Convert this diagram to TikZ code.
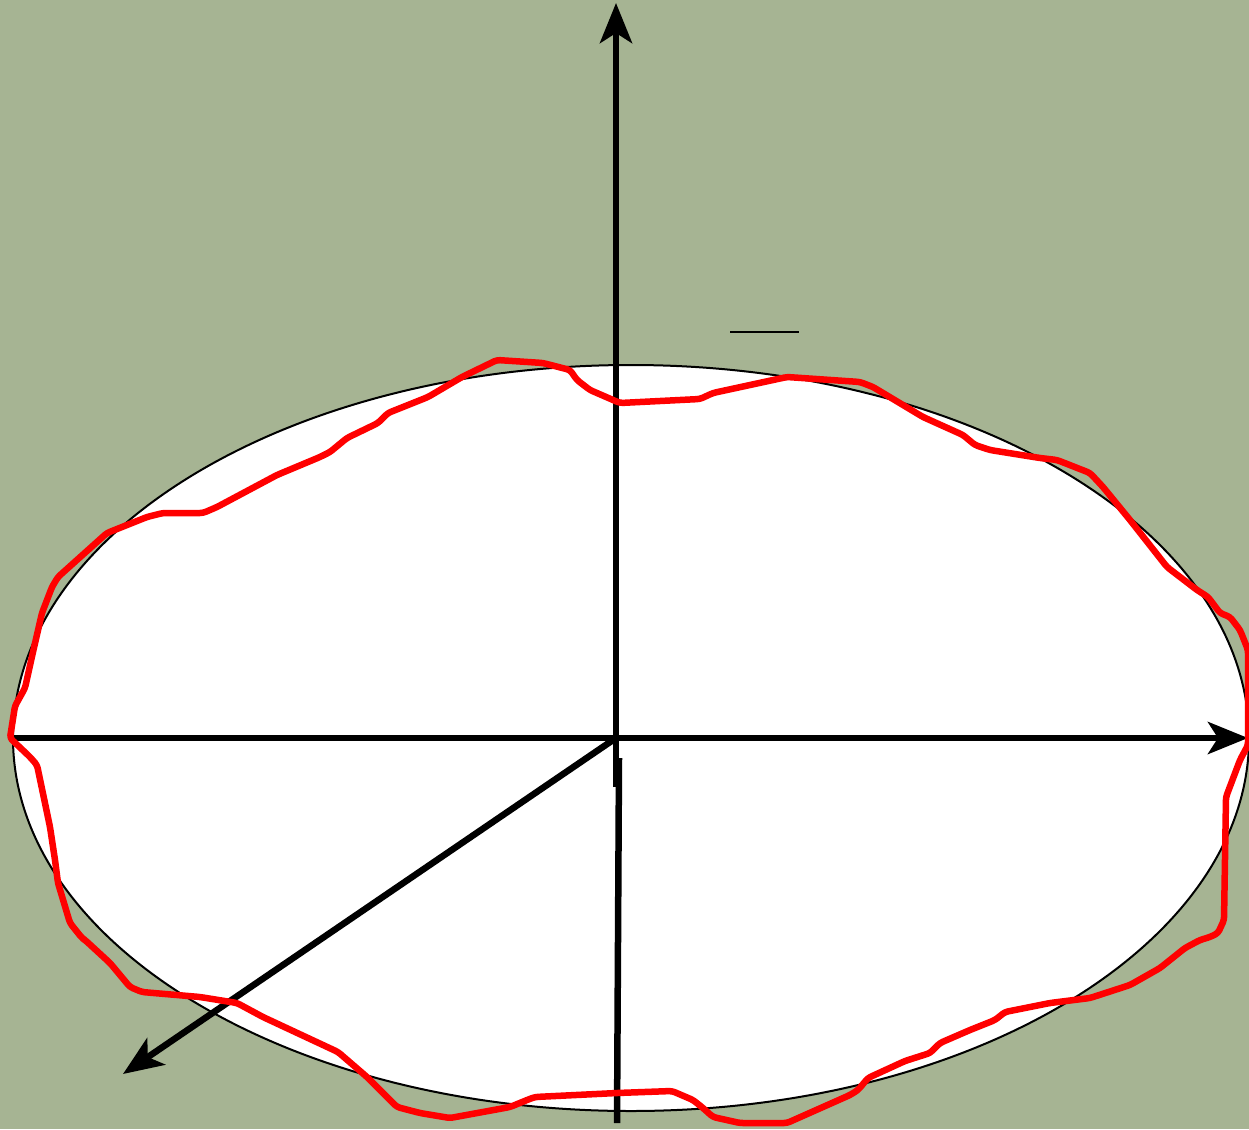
\documentclass[tikz,border=0pt]{standalone}
\usetikzlibrary{arrows.meta}
\definecolor{bg}{HTML}{A6B493}
\tikzset{
  axis/.style={line width=6.5pt, black},
  tipstyle/.style={-{Stealth[length=40pt,width=32pt,inset=10pt]}},
  wave/.style={line width=6.5pt, red, line join=round, line cap=round, rounded corners=3pt}
}
\begin{document}
\begin{tikzpicture}[x=1pt,y=-1pt]
\fill[bg] (0,0) rectangle (1249,1129);
\useasboundingbox (0,0) rectangle (1249,1129);
% ellipse
\coordinate (c) at (631,738);
\filldraw[fill=white, draw=black, line width=2pt] (c) ellipse [x radius=618, y radius=373];
% axes
\coordinate (o) at (616,738);
\coordinate (vtop) at (616,3);
\coordinate (vlow) at (616,787);
\coordinate (v2a) at (619,758);
\coordinate (v2b) at (617,1123);
\coordinate (hl) at (10,738);
\coordinate (hr) at (1248,738);
\coordinate (dtip) at (123,1074);
\draw[axis, tipstyle] (vlow) -- (vtop);
\draw[axis] (v2a) -- (v2b);
\draw[axis, tipstyle] (hl) -- (hr);
\draw[axis, tipstyle] (o) -- (dtip);
% small bar
\coordinate (b1) at (730,332);
\coordinate (b2) at (799,332);
\draw[line width=2.8pt] (b1) -- (b2);
% red wavy curve
\draw[wave] (10,738) -- (15,706) -- (25,688) -- (33,652) -- (42,613) -- (52,587) -- (58,577)
 -- (107,533) -- (147,517) -- (163,513) -- (203,513) -- (217,507) -- (277,475) -- (320,457)
 -- (330,452) -- (347,438) -- (378,423) -- (388,413) -- (428,397) -- (462,377) -- (497,360)
 -- (543,363) -- (570,370) -- (577,380) -- (590,390) -- (620,403) -- (700,399) -- (713,393)
 -- (787,377) -- (860,382) -- (873,387) -- (903,405) -- (923,417) -- (963,435) -- (975,445)
 -- (990,450) -- (1040,458) -- (1057,460) -- (1090,473) -- (1103,487) -- (1130,520)
 -- (1167,567) -- (1197,590) -- (1208,597) -- (1220,613) -- (1230,617) -- (1240,630)
 -- (1248,650) -- (1248,745) -- (1240,760) -- (1226,797) -- (1224,920) -- (1218,933)
 -- (1210,937) -- (1200,940) -- (1185,948) -- (1160,968) -- (1130,985) -- (1090,998)
 -- (1050,1003) -- (1005,1012) -- (995,1020) -- (970,1030) -- (940,1043) -- (930,1053)
 -- (905,1061) -- (868,1078) -- (858,1090) -- (850,1095) -- (787,1123) -- (740,1123)
 -- (713,1117) -- (703,1108) -- (693,1100) -- (672,1091) -- (617,1093) -- (535,1097)
 -- (527,1100) -- (510,1107) -- (450,1118) -- (420,1113) -- (397,1107) -- (367,1077)
 -- (338,1052) -- (263,1017) -- (237,1003) -- (200,997) -- (142,992) -- (130,987)
 -- (110,963) -- (85,940) -- (82,938) -- (70,923) -- (58,883) -- (55,860) -- (50,827)
 -- (37,765) -- (30,757) -- cycle;
\end{tikzpicture}
\end{document}
